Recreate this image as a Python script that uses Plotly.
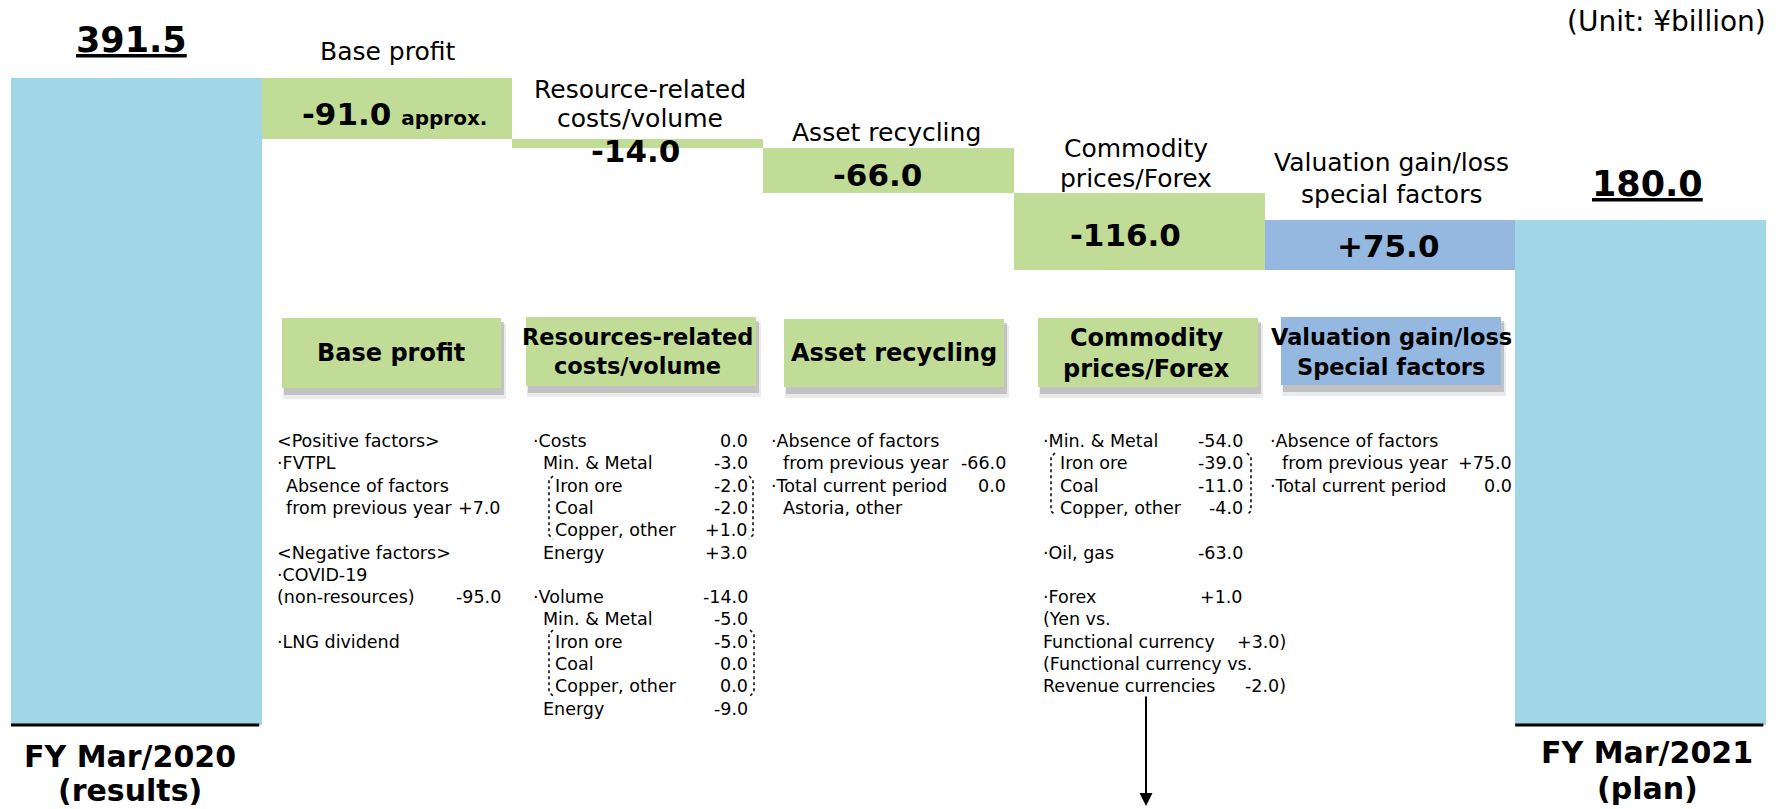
import plotly.graph_objects as go

W, H = 1781, 809
FONT = "DejaVu Sans"

# ---------------- data ----------------
categories = ["FY Mar/2020 (results)", "Base profit", "Resource-related costs/volume",
              "Asset recycling", "Commodity prices/Forex",
              "Valuation gain/loss special factors", "FY Mar/2021 (plan)"]
start_value = 391.5
changes = [-91.0, -14.0, -66.0, -116.0, 75.0]
end_value = 180.0

start_text = "391.5"
end_text = "180.0"
change_texts = ["-91.0", "-14.0", "-66.0", "-116.0", "+75.0"]
change_notes = ["approx.", "", "", "", ""]
top_labels = [["Base profit"], ["Resource-related", "costs/volume"], ["Asset recycling"],
              ["Commodity", "prices/Forex"], ["Valuation gain/loss", "special factors"]]
header_labels = [["Base profit"], ["Resources-related", "costs/volume"], ["Asset recycling"],
                 ["Commodity", "prices/Forex"], ["Valuation gain/loss", "Special factors"]]
total_labels = [["FY Mar/2020", "(results)"], ["FY Mar/2021", "(plan)"]]
unit_text = "(Unit: ¥billion)"

base_profit_items = ["<Positive factors>", "·FVTPL", "Absence of factors", "from previous year",
                     "<Negative factors>", "·COVID-19", "(non-resources)", "·LNG dividend"]
base_profit_values = ["", "", "", "+7.0", "", "", "-95.0", ""]

resource_items = ["·Costs", "Min. & Metal", "Iron ore", "Coal", "Copper, other", "Energy",
                  "·Volume", "Min. & Metal", "Iron ore", "Coal", "Copper, other", "Energy"]
resource_values = ["0.0", "-3.0", "-2.0", "-2.0", "+1.0", "+3.0",
                   "-14.0", "-5.0", "-5.0", "0.0", "0.0", "-9.0"]

asset_items = ["·Absence of factors", "from previous year", "·Total current period", "Astoria, other"]
asset_values = ["", "-66.0", "0.0", ""]

commodity_items = ["·Min. & Metal", "Iron ore", "Coal", "Copper, other", "·Oil, gas", "·Forex",
                   "(Yen vs.", "Functional currency", "(Functional currency vs.", "Revenue currencies"]
commodity_values = ["-54.0", "-39.0", "-11.0", "-4.0", "-63.0", "+1.0", "", "+3.0)", "", "-2.0)"]

valuation_items = ["·Absence of factors", "from previous year", "·Total current period"]
valuation_values = ["", "+75.0", "0.0"]

# ---------------- styles / layout ----------------
LBLUE = "#A0D6E6"
GREEN = "#C1DC97"
BLUE = "#95B8E0"

COL_LEFT = 11.0      # px of left edge of first bar
COL_W = 250.7        # px per category
START_PX = 78.0      # px of start_value level
FLOOR_PX = 725.0     # px where total bars end (axis break)
PX_PER_UNIT = 0.67

y_top = start_value + START_PX / PX_PER_UNIT
y_bottom = start_value - (H - START_PX) / PX_PER_UNIT
floor = start_value - (FLOOR_PX - START_PX) / PX_PER_UNIT

# ---------------- bars ----------------
levels = [start_value]
for c in changes:
    levels.append(levels[-1] + c)

xs = list(range(len(categories)))
bases = [floor]
heights = [start_value - floor]
colors = [LBLUE]
for i, c in enumerate(changes):
    bases.append(min(levels[i], levels[i + 1]))
    heights.append(abs(c))
    colors.append(GREEN if c < 0 else BLUE)
bases.append(floor)
heights.append(end_value - floor)
colors.append(LBLUE)

fig = go.Figure(go.Bar(x=xs, y=heights, base=bases, width=1.0,
                       marker=dict(color=colors, line=dict(width=0)),
                       hoverinfo="skip", customdata=categories))

annotations = []
shapes = []


def esc(s):
    return s.replace("&", "&amp;").replace("<", "&lt;").replace(">", "&gt;")


def px_x(px):
    return px / W


def px_y(py):
    return 1 - py / H


def txt(px, py, text, size, bold=False, anchor="center"):
    t = "<b>%s</b>" % text if bold else text
    annotations.append(dict(x=px_x(px), y=px_y(py), xref="paper", yref="paper",
                            text=t, showarrow=False, xanchor=anchor, yanchor="middle",
                            font=dict(family=FONT, size=size, color="black")))


def rect(x0, y0, x1, y1, fill):
    shapes.append(dict(type="rect", xref="paper", yref="paper",
                       x0=px_x(x0), x1=px_x(x1), y0=px_y(y1), y1=px_y(y0),
                       fillcolor=fill, line=dict(width=0), layer="above"))


def bracket_pair(x0, y0, x1, y1, hook=4):
    for pts in ([(x0 + hook, y0), (x0, y0 + hook), (x0, y1 - hook), (x0 + hook, y1)],
                [(x1 - hook, y0), (x1, y0 + hook), (x1, y1 - hook), (x1 - hook, y1)]):
        path = "M " + " L ".join("%.5f,%.5f" % (px_x(a), px_y(b)) for a, b in pts)
        shapes.append(dict(type="path", xref="paper", yref="paper", path=path,
                           line=dict(color="black", width=1.5, dash="dot"), layer="above"))


# unit
txt(1768, 21, unit_text, 28, anchor="right")

# totals labels
txt(131, 40, "<u>%s</u>" % start_text, 35, bold=True)
txt(1647, 184, "<u>%s</u>" % end_text, 35, bold=True)
bottom_pos = [(130, [756, 790]), (1647, [752, 788])]
for (cx, ys), lines in zip(bottom_pos, total_labels):
    for yy, ln in zip(ys, lines):
        txt(cx, yy, ln, 30, bold=True)

# change values inside bars
val_pos = [(394, 114), (635, 151), (877, 175), (1125, 235), (1388, 246)]
for (cx, cy), t, note in zip(val_pos, change_texts, change_notes):
    s = "<b>%s</b>" % t
    if note:
        s += " <b><span style='font-size:20px'>%s</span></b>" % note
    txt(cx, cy, s, 31)

# category labels above bars
top_pos = [(387, [51]), (640, [89, 119]), (886, [132]), (1136, [148, 178]), (1391, [162, 194])]
for (cx, ys), lines in zip(top_pos, top_labels):
    for yy, ln in zip(ys, lines):
        txt(cx, yy, ln, 25)

# header boxes with shadow
hdr_boxes = [(282, 318, 501, 388), (526, 317, 756, 386), (784, 319, 1004, 387),
             (1038, 318, 1258, 387), (1281, 317, 1501, 385)]
hdr_fill = [GREEN, GREEN, GREEN, GREEN, BLUE]
hdr_text_pos = [(391, [353]), (637, [337, 366]), (894, [353]), (1146, [338, 369]), (1391, [337, 367])]
hdr_size = [24, 22.5, 24, 24, 22.5]
for (x0, y0, x1, y1), f in zip(hdr_boxes, hdr_fill):
    rect(x0 + 1, y0 + 6, x1 + 5, y1 + 11, "rgba(90,90,90,0.12)")
    rect(x0 + 2, y0 + 4, x1 + 3, y1 + 7, "rgba(90,90,90,0.28)")
    rect(x0, y0, x1, y1, f)
for (cx, ys), lines, sz in zip(hdr_text_pos, header_labels, hdr_size):
    for yy, ln in zip(ys, lines):
        txt(cx, yy, ln, sz, bold=True)

# notes
ROW0, ROWH = 441.0, 22.3
NOTE_SIZE = 17.5
note_blocks = [
    dict(items=base_profit_items, values=base_profit_values,
         rows=[0, 1, 2, 3, 5, 6, 7, 9], indent=[0, 0, 1, 1, 0, 0, 0, 0],
         indent_px=[275, 284], value_px=[503] * 8),
    dict(items=resource_items, values=resource_values,
         rows=[0, 1, 2, 3, 4, 5, 7, 8, 9, 10, 11, 12], indent=[0, 1, 2, 2, 2, 1, 0, 1, 2, 2, 2, 1],
         indent_px=[531, 541, 553], value_px=[750] * 12),
    dict(items=asset_items, values=asset_values,
         rows=[0, 1, 2, 3], indent=[0, 1, 0, 1],
         indent_px=[769, 781], value_px=[1008] * 4),
    dict(items=commodity_items, values=commodity_values,
         rows=[0, 1, 2, 3, 5, 7, 8, 9, 10, 11], indent=[0, 1, 1, 1, 0, 0, 0, 0, 0, 0],
         indent_px=[1041, 1058], value_px=[1245] * 6 + [1288] * 4),
    dict(items=valuation_items, values=valuation_values,
         rows=[0, 1, 2], indent=[0, 1, 0],
         indent_px=[1268, 1280], value_px=[1514] * 3),
]
for b in note_blocks:
    for it, v, r, ind, vx in zip(b["items"], b["values"], b["rows"], b["indent"], b["value_px"]):
        yy = ROW0 + r * ROWH
        txt(b["indent_px"][ind], yy, esc(it), NOTE_SIZE, anchor="left")
        if v:
            txt(vx, yy, v, NOTE_SIZE, anchor="right")

# dotted bracket pairs around sub-items
for (x0, y0, x1, y1) in [(549, 476, 753, 539), (549, 630, 754, 696), (1051, 453, 1251, 515)]:
    bracket_pair(x0, y0, x1, y1)

# arrow
annotations.append(dict(x=px_x(1146), y=px_y(806), xref="paper", yref="paper",
                        ax=0, ay=-111, axref="pixel", ayref="pixel", text="",
                        showarrow=True, arrowhead=2, arrowsize=1.3, arrowwidth=2,
                        arrowcolor="black"))

# base lines under total bars
for i in (0, len(categories) - 1):
    shapes.append(dict(type="line", xref="x", yref="y", x0=i - 0.5, x1=i + 0.49,
                       y0=floor, y1=floor, line=dict(color="black", width=3)))

fig.update_layout(
    width=W, height=H, margin=dict(l=0, r=0, t=0, b=0),
    paper_bgcolor="white", plot_bgcolor="white", showlegend=False,
    bargap=0,
    xaxis=dict(range=[-0.5 - COL_LEFT / COL_W, -0.5 + (W - COL_LEFT) / COL_W],
               visible=False, fixedrange=True),
    yaxis=dict(range=[y_bottom, y_top], visible=False, fixedrange=True),
    annotations=annotations, shapes=shapes,
    font=dict(family=FONT),
)

fig.write_html("out.html", config={"displayModeBar": False},
               post_script="document.body.style.margin='0';document.body.style.overflow='hidden';")
